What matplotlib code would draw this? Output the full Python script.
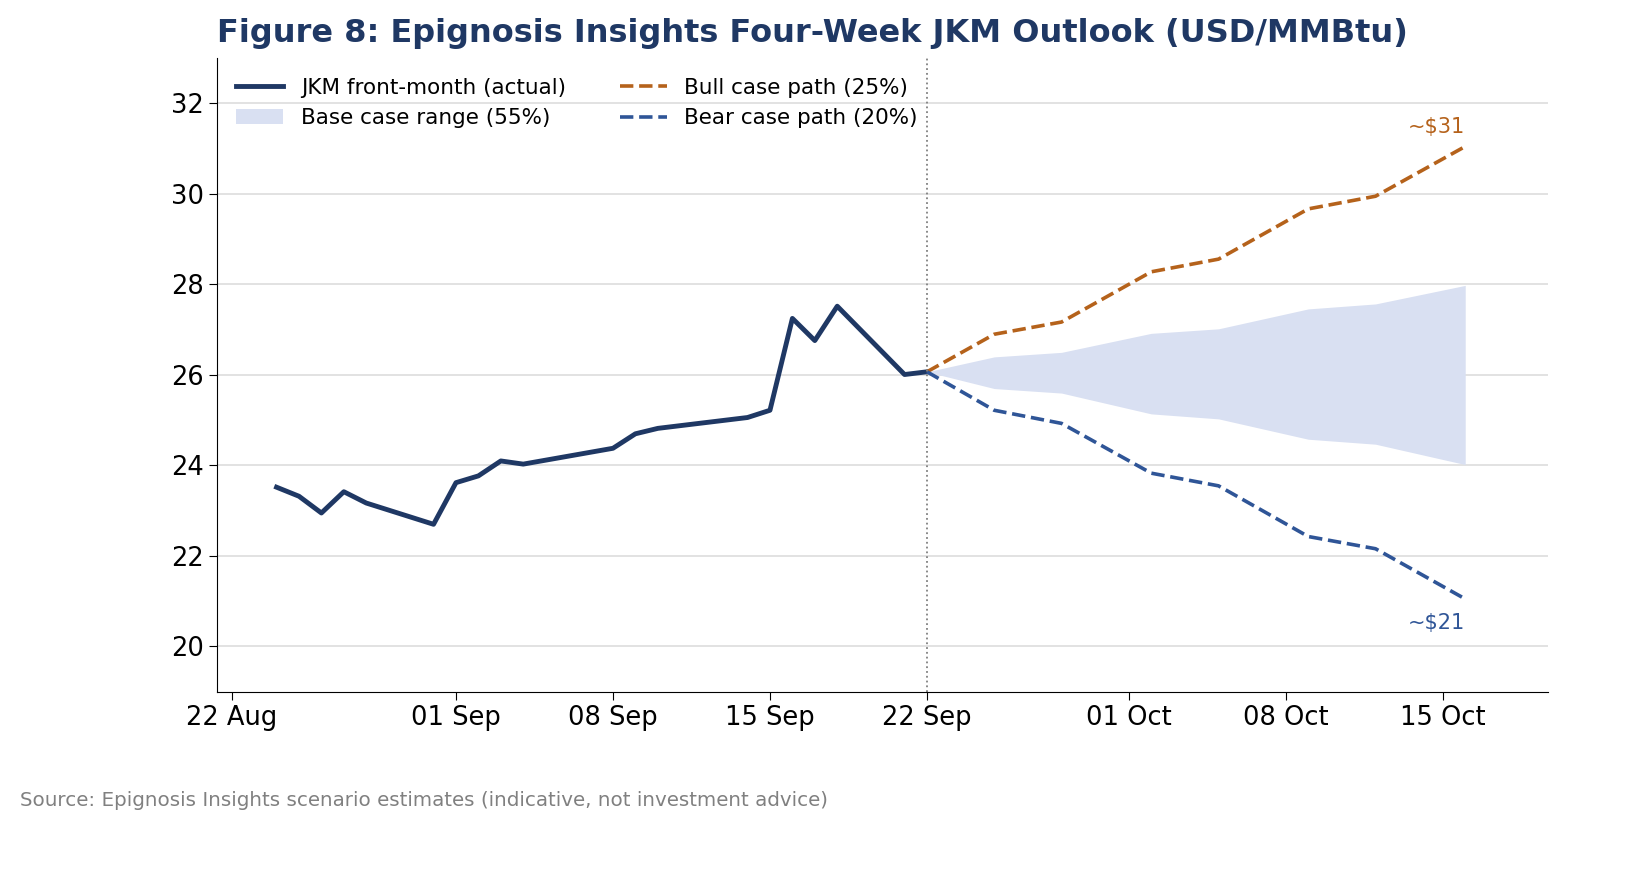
import numpy as np
import pandas as pd
import matplotlib
matplotlib.use("Agg")
import matplotlib.pyplot as plt
import matplotlib.dates as mdates

actual_dates = ["2026-08-24", "2026-08-25", "2026-08-26", "2026-08-27", "2026-08-28",
                "2026-08-31", "2026-09-01", "2026-09-02", "2026-09-03", "2026-09-04",
                "2026-09-08", "2026-09-09", "2026-09-10", "2026-09-14", "2026-09-15",
                "2026-09-16", "2026-09-17", "2026-09-18", "2026-09-21", "2026-09-22"]
actual_vals = [23.52, 23.32, 22.95, 23.42, 23.17, 22.7, 23.62, 23.77, 24.1, 24.03,
               24.38, 24.7, 24.82, 25.06, 25.22, 27.25, 26.76, 27.52, 26.01, 26.07]

fc_dates = ["2026-09-22", "2026-09-25", "2026-09-28", "2026-10-02", "2026-10-05",
            "2026-10-09", "2026-10-12", "2026-10-16"]
bull_vals = [26.07, 26.9, 27.17, 28.28, 28.56, 29.67, 29.95, 31.05]
bear_vals = [26.07, 25.22, 24.93, 23.83, 23.55, 22.43, 22.16, 21.05]
base_hi = [26.07, 26.4, 26.5, 26.92, 27.02, 27.46, 27.57, 27.98]
base_lo = [26.07, 25.7, 25.6, 25.14, 25.03, 24.58, 24.47, 24.02]

tick_dates = ["2026-08-22", "2026-09-01", "2026-09-08", "2026-09-15", "2026-09-22",
              "2026-10-01", "2026-10-08", "2026-10-15"]

navy = "#1f3864"
bull_c = "#b5621b"
bear_c = "#2f5597"
fill_c = "#d9e0f2"

ad = pd.to_datetime(actual_dates)
fd = pd.to_datetime(fc_dates)

fig = plt.figure(figsize=(16.42, 8.69), dpi=100)
ax = fig.add_axes([0.132, 0.204, 0.811, 0.729])

ax.fill_between(fd, base_lo, base_hi, color=fill_c, lw=0, label="Base case range (55%)")
ax.plot(ad, actual_vals, color=navy, lw=3.5, label="JKM front-month (actual)")
ax.plot(fd, bull_vals, color=bull_c, lw=2.6, ls="--", label="Bull case path (25%)")
ax.plot(fd, bear_vals, color=bear_c, lw=2.6, ls="--", label="Bear case path (20%)")
ax.axvline(pd.Timestamp("2026-09-22"), color="gray", lw=1.3, ls=":")

ax.text(fd[-1], bull_vals[-1] + 0.2, "~$31", color=bull_c, fontsize=15, ha="right", va="bottom")
ax.text(fd[-1], bear_vals[-1] - 0.3, "~$21", color=bear_c, fontsize=15, ha="right", va="top")

ax.set_ylim(19, 33)
ax.set_xlim(pd.Timestamp("2026-08-21 08:00"), pd.Timestamp("2026-10-19 17:00"))
ax.set_yticks([20, 22, 24, 26, 28, 30, 32])
ax.set_xticks(pd.to_datetime(tick_dates))
ax.xaxis.set_major_formatter(mdates.DateFormatter("%d %b"))
ax.tick_params(labelsize=18.5, length=6)
ax.grid(axis="y", color="#dddddd", lw=1.2)
ax.set_axisbelow(True)
for s in ["top", "right"]:
    ax.spines[s].set_visible(False)

h, l = ax.get_legend_handles_labels()
order = [1, 0, 2, 3]
ax.legend([h[i] for i in order], [l[i] for i in order], ncol=2, loc="upper left",
          frameon=False, fontsize=15.5, columnspacing=2.5, handlelength=2.2)

fig.text(0.132, 0.961, "Figure 8: Epignosis Insights Four-Week JKM Outlook (USD/MMBtu)",
         fontsize=23, fontweight="bold", color=navy, ha="left", va="center")
fig.text(0.012, 0.079, "Source: Epignosis Insights scenario estimates (indicative, not investment advice)",
         fontsize=14.3, color="gray", ha="left", va="center")

fig.savefig("out.png", dpi=100)
